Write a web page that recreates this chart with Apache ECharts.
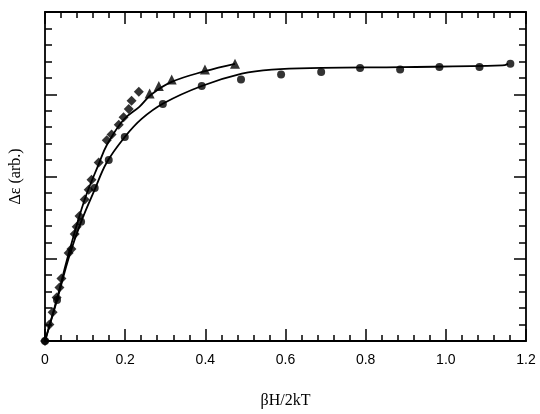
<!DOCTYPE html>
<html>
<head>
<meta charset="utf-8">
<script src="https://cdn.jsdelivr.net/npm/echarts@6/dist/echarts.min.js"></script>
<style>html,body{margin:0;padding:0;background:#fff}#c{width:540px;height:414px}</style>
</head>
<body>
<div id="c"></div>
<script>
// x tick values shown on the axis
const xTicks = [0, 0.2, 0.4, 0.6, 0.8, 1.0, 1.2];
// fitted curve through circles (lower)
const lowerCurve = [[0,0],[0.029,0.48],[0.061,1.04],[0.091,1.46],[0.124,1.84],[0.154,2.17],[0.199,2.48],[0.241,2.70],[0.296,2.89],[0.391,3.10],[0.491,3.25],[0.566,3.30],[0.691,3.32],[0.891,3.33],[1.141,3.35],[1.155,3.37]];
// fitted curve through diamonds / triangles (upper)
const upperCurve = [[0,0],[0.029,0.50],[0.059,1.06],[0.099,1.72],[0.134,2.15],[0.154,2.38],[0.196,2.69],[0.236,2.85],[0.266,3.00],[0.316,3.15],[0.399,3.28],[0.474,3.37]];
// circles
const circles = [[0,0],[0.03,0.50],[0.09,1.45],[0.124,1.86],[0.159,2.20],[0.199,2.48],[0.294,2.88],[0.391,3.10],[0.489,3.18],[0.589,3.24],[0.689,3.27],[0.786,3.32],[0.886,3.30],[0.984,3.33],[1.084,3.33],[1.161,3.37]];
// diamonds
const diamonds = [[0,0],[0.011,0.20],[0.019,0.35],[0.029,0.53],[0.036,0.65],[0.041,0.76],[0.059,1.07],[0.066,1.12],[0.074,1.30],[0.079,1.39],[0.086,1.52],[0.099,1.72],[0.109,1.84],[0.116,1.96],[0.134,2.17],[0.154,2.44],[0.166,2.51],[0.184,2.63],[0.196,2.72],[0.209,2.82],[0.216,2.92],[0.234,3.03]];
// triangles
const triangles = [[0.261,3.01],[0.284,3.10],[0.316,3.18],[0.399,3.30],[0.474,3.37]];

const chart = echarts.init(document.getElementById('c'), null, {renderer:'canvas'});
const axisLineStyle = {color:'#000', width:1.8};
const baseX = {
  type:'value', min:0, max:1.2, interval:0.2,
  axisLine:{show:true, onZero:false, lineStyle:axisLineStyle},
  axisTick:{show:true, inside:true, length:12, lineStyle:{color:'#000', width:1.5}},
  minorTick:{show:true, splitNumber:5, length:6, lineStyle:{color:'#000', width:1.5}},
  splitLine:{show:false}, minorSplitLine:{show:false}
};
const baseY = {
  type:'value', min:0, max:4, interval:1,
  axisLine:{show:true, onZero:false, lineStyle:axisLineStyle},
  axisTick:{show:true, inside:true, length:12, lineStyle:{color:'#000', width:1.5}},
  minorTick:{show:true, splitNumber:5, length:7, lineStyle:{color:'#000', width:1.5}},
  splitLine:{show:false}, minorSplitLine:{show:false},
  axisLabel:{show:false}
};
chart.setOption({
  animation:false,
  backgroundColor:'#fff',
  grid:{left:43, right:14, top:12, bottom:67, containLabel:false},
  xAxis:[
    Object.assign({}, baseX, {
      position:'bottom',
      name:'βH/2kT', nameLocation:'middle', nameGap:52,
      nameTextStyle:{fontFamily:'Liberation Serif', fontSize:16, color:'#000'},
      axisLabel:{show:true, margin:12, fontFamily:'Liberation Sans', fontSize:14, color:'#000',
        customValues: xTicks,
        formatter:v => (Math.abs(v)<1e-9 ? '0' : v.toFixed(1))}
    }),
    Object.assign({}, baseX, {position:'top', axisLabel:{show:false}})
  ],
  yAxis:[
    Object.assign({}, baseY, {
      position:'left',
      name:'Δε (arb.)', nameLocation:'middle', nameGap:21, nameRotate:90,
      nameTextStyle:{fontFamily:'Liberation Serif', fontSize:16, color:'#000'}
    }),
    Object.assign({}, baseY, {position:'right'})
  ],
  series:[
    {type:'line', data:lowerCurve, smooth:0.4, showSymbol:false, lineStyle:{color:'#000', width:1.8}},
    {type:'line', data:upperCurve, smooth:0.4, showSymbol:false, lineStyle:{color:'#000', width:1.8}},
    {type:'scatter', data:circles, symbol:'circle', symbolSize:8, itemStyle:{color:'#000'}},
    {type:'scatter', data:diamonds, symbol:'diamond', symbolSize:10, itemStyle:{color:'#000'}},
    {type:'scatter', data:triangles, symbol:'triangle', symbolSize:10, itemStyle:{color:'#000'}}
  ]
});
</script>
</body>
</html>
